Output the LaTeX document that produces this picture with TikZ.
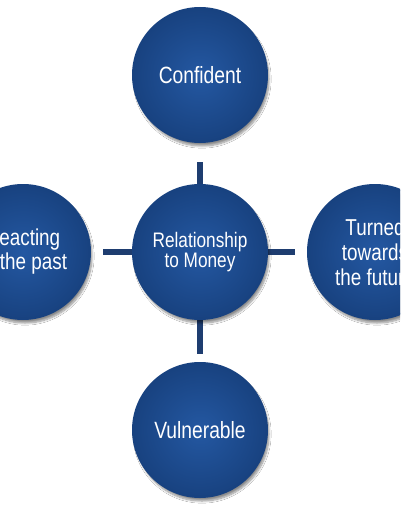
\documentclass[tikz,border=0pt]{standalone}
\usepackage{fontspec}
\setmainfont[FakeStretch=0.82]{Liberation Sans}
\usetikzlibrary{shadows.blur}

\definecolor{ballblue}{RGB}{36,88,162}
\definecolor{rimblue}{RGB}{24,66,128}
\definecolor{spokeblue}{RGB}{30,61,112}

\tikzset{
  bubble/.style={circle, minimum size=134pt, inner sep=0pt,
    draw=rimblue, line width=2pt,
    inner color=ballblue, outer color=rimblue,
    blur shadow={shadow xshift=2pt, shadow yshift=-4pt, shadow blur steps=8, shadow opacity=45},
    text=white, align=center},
  spoke/.style={spokeblue, line width=6.5pt}
}

\begin{document}
\begin{tikzpicture}[x=1pt, y=-1pt]
    \clip (0,0) rectangle (400,516);
    \fill[white] (0,0) rectangle (400,516);

    % Spokes of the cross
    \coordinate (hub) at (200,252);
    \coordinate (tipN) at (200,162);
    \coordinate (tipW) at (103,252);
    \coordinate (tipE) at (295,252);
    \coordinate (tipS) at (200,354);
    \foreach \t in {tipN,tipW,tipE,tipS}
        \draw[spoke] (hub) -- (\t);

    % Circles
    \node[bubble, font=\fontsize{21}{20}\selectfont] (money) at (hub) {Relationship\\to Money};
    \node[bubble, font=\fontsize{23.5}{25}\selectfont] (confident) at (200,75) {Confident};
    \node[bubble, font=\fontsize{23.5}{25}\selectfont] (vulnerable) at (200,430) {Vulnerable};
    \node[bubble, font=\fontsize{23}{24}\selectfont] (past) at (23,252) {Reacting\\to the past};
    \node[bubble, font=\fontsize{23}{25}\selectfont] (future) at (375,252) {Turned\\towards\\the future};
\end{tikzpicture}
\end{document}
